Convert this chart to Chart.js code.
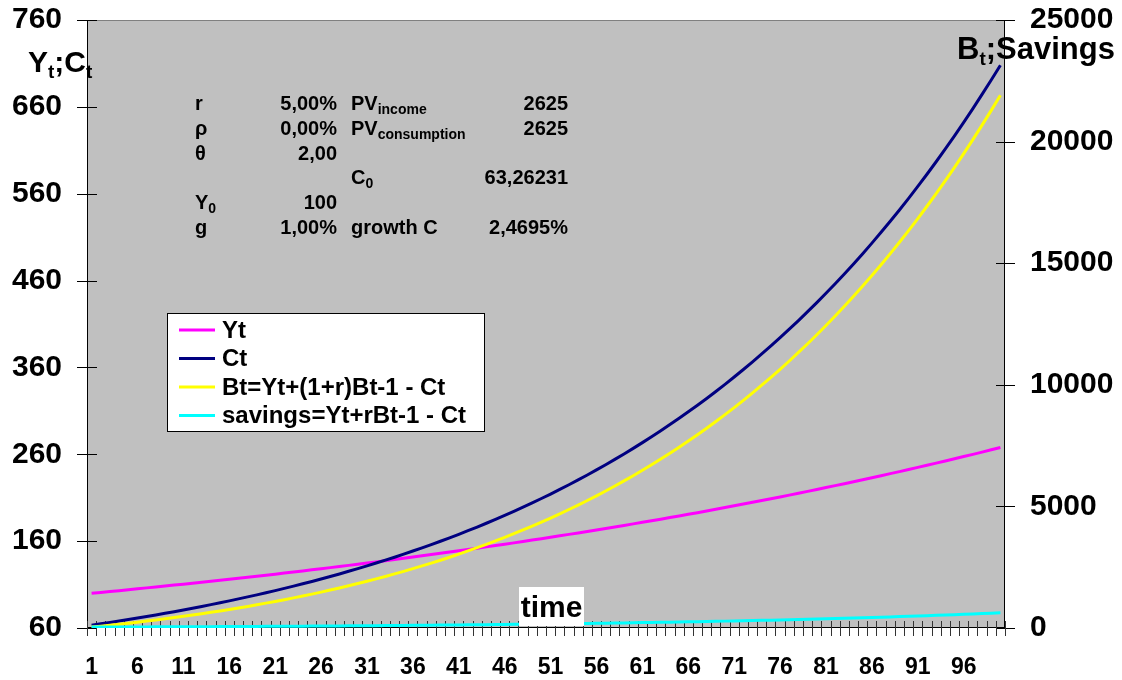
<!DOCTYPE html>
<html>
<head>
<meta charset="utf-8">
<title>Consumption, income and savings</title>
<script src="https://cdn.jsdelivr.net/npm/chart.js@4.4.0/dist/chart.umd.min.js"></script>
<style>
  html, body { margin: 0; padding: 0; background: #ffffff; }
  #chart { display: block; }
</style>
</head>
<body>
<canvas id="chart" width="1122" height="680"></canvas>
<script>
// time periods 1..100
const periods = [
  1, 2, 3, 4, 5, 6, 7, 8, 9, 10, 11, 12, 13, 14, 15, 16, 17, 18, 19, 20,
  21, 22, 23, 24, 25, 26, 27, 28, 29, 30, 31, 32, 33, 34, 35, 36, 37, 38, 39, 40,
  41, 42, 43, 44, 45, 46, 47, 48, 49, 50, 51, 52, 53, 54, 55, 56, 57, 58, 59, 60,
  61, 62, 63, 64, 65, 66, 67, 68, 69, 70, 71, 72, 73, 74, 75, 76, 77, 78, 79, 80,
  81, 82, 83, 84, 85, 86, 87, 88, 89, 90, 91, 92, 93, 94, 95, 96, 97, 98, 99, 100
];

// income Yt (left axis)
const incomeY = [
  100.0, 101.0, 102.0, 103.0, 104.1, 105.1, 106.2, 107.2, 108.3, 109.4,
  110.5, 111.6, 112.7, 113.8, 114.9, 116.1, 117.3, 118.4, 119.6, 120.8,
  122.0, 123.2, 124.5, 125.7, 127.0, 128.2, 129.5, 130.8, 132.1, 133.5,
  134.8, 136.1, 137.5, 138.9, 140.3, 141.7, 143.1, 144.5, 146.0, 147.4,
  148.9, 150.4, 151.9, 153.4, 154.9, 156.5, 158.0, 159.6, 161.2, 162.8,
  164.5, 166.1, 167.8, 169.4, 171.1, 172.9, 174.6, 176.3, 178.1, 179.9,
  181.7, 183.5, 185.3, 187.2, 189.0, 190.9, 192.8, 194.8, 196.7, 198.7,
  200.7, 202.7, 204.7, 206.8, 208.8, 210.9, 213.0, 215.2, 217.3, 219.5,
  221.7, 223.9, 226.1, 228.4, 230.7, 233.0, 235.3, 237.7, 240.0, 242.4,
  244.9, 247.3, 249.8, 252.3, 254.8, 257.4, 259.9, 262.5, 265.2, 267.8
];

// consumption Ct (left axis)
const consumptionC = [
  63.3, 64.8, 66.4, 68.1, 69.7, 71.5, 73.2, 75.0, 76.9, 78.8,
  80.7, 82.7, 84.8, 86.9, 89.0, 91.2, 93.5, 95.8, 98.1, 100.6,
  103.0, 105.6, 108.2, 110.9, 113.6, 116.4, 119.3, 122.2, 125.3, 128.3,
  131.5, 134.8, 138.1, 141.5, 145.0, 148.6, 152.2, 156.0, 159.9, 163.8,
  167.9, 172.0, 176.2, 180.6, 185.1, 189.6, 194.3, 199.1, 204.0, 209.1,
  214.2, 219.5, 224.9, 230.5, 236.2, 242.0, 248.0, 254.1, 260.4, 266.8,
  273.4, 280.2, 287.1, 294.2, 301.4, 308.9, 316.5, 324.3, 332.3, 340.5,
  349.0, 357.6, 366.4, 375.5, 384.7, 394.2, 404.0, 413.9, 424.2, 434.6,
  445.4, 456.4, 467.6, 479.2, 491.0, 503.1, 515.6, 528.3, 541.3, 554.7,
  568.4, 582.4, 596.8, 611.6, 626.7, 642.1, 658.0, 674.3, 690.9, 708.0
];

// wealth Bt (right axis)
const wealthB = [
  37, 75, 114, 155, 197, 240, 285, 332, 380, 429,
  480, 533, 588, 644, 702, 762, 824, 888, 954, 1022,
  1092, 1164, 1239, 1315, 1394, 1476, 1560, 1647, 1736, 1828,
  1922, 2020, 2120, 2224, 2330, 2440, 2552, 2669, 2788, 2911,
  3038, 3168, 3302, 3440, 3582, 3728, 3878, 4032, 4191, 4354,
  4522, 4695, 4873, 5055, 5243, 5436, 5634, 5838, 6048, 6263,
  6485, 6712, 6946, 7186, 7433, 7687, 7948, 8216, 8491, 8773,
  9064, 9362, 9668, 9983, 10306, 10638, 10979, 11330, 11689, 12059,
  12438, 12827, 13227, 13638, 14059, 14492, 14936, 15393, 15861, 16342,
  16835, 17342, 17862, 18396, 18944, 19506, 20083, 20676, 21284, 21908
];

// savings (right axis)
const savings = [
  36.7, 38.0, 39.3, 40.7, 42.1, 43.5, 44.9, 46.4, 48.0, 49.6,
  51.2, 52.9, 54.6, 56.3, 58.1, 60.0, 61.9, 63.9, 65.9, 67.9,
  70.1, 72.2, 74.5, 76.8, 79.1, 81.6, 84.0, 86.6, 89.2, 91.9,
  94.7, 97.5, 100.4, 103.4, 106.4, 109.6, 112.8, 116.1, 119.5, 123.0,
  126.6, 130.3, 134.0, 137.9, 141.9, 145.9, 150.1, 154.4, 158.8, 163.3,
  168.0, 172.7, 177.6, 182.6, 187.7, 193.0, 198.4, 203.9, 209.6, 215.4,
  221.4, 227.6, 233.8, 240.3, 246.9, 253.7, 260.7, 267.8, 275.2, 282.7,
  290.4, 298.3, 306.4, 314.7, 323.3, 332.0, 341.0, 350.2, 359.6, 369.3,
  379.2, 389.4, 399.9, 410.6, 421.5, 432.8, 444.3, 456.2, 468.3, 480.8,
  493.5, 506.6, 520.0, 533.8, 547.9, 562.4, 577.2, 592.4, 608.0, 624.0
];

// parameter block shown inside the plot: [label, sub, value, label, sub, value]
const paramRows = [
  ["r", "", "5,00%", "PV", "income", "2625"],
  ["\u03c1", "", "0,00%", "PV", "consumption", "2625"],
  ["\u03b8", "", "2,00", "", "", ""],
  ["", "", "", "C", "0", "63,26231"],
  ["Y", "0", "100", "", "", ""],
  ["g", "", "1,00%", "growth C", "", "2,4695%"]
];

const FONT = "'Liberation Sans', Arial, Helvetica, sans-serif";

// draw a piece of text followed by a subscript, returns end x
function textWithSub(ctx, main, sub, x, y, size, subSize, drop) {
  ctx.font = "bold " + size + "px " + FONT;
  ctx.fillText(main, x, y);
  x += ctx.measureText(main).width;
  if (sub) {
    ctx.font = "bold " + subSize + "px " + FONT;
    ctx.fillText(sub, x, y + drop);
    x += ctx.measureText(sub).width;
  }
  return x;
}

const plotBackground = {
  id: "plotBackground",
  beforeDatasetsDraw(chart) {
    const { ctx, chartArea: a, scales } = chart;
    ctx.save();
    ctx.fillStyle = "#c0c0c0";
    ctx.fillRect(a.left, a.top, a.right - a.left, a.bottom - a.top);
    ctx.strokeStyle = "#808080";
    ctx.lineWidth = 1;
    ctx.beginPath();
    ctx.moveTo(a.left, a.top + 0.5);
    ctx.lineTo(a.right, a.top + 0.5);
    ctx.stroke();

    ctx.strokeStyle = "#000";
    ctx.beginPath();
    // axis lines
    ctx.moveTo(a.left + 0.5, a.top);
    ctx.lineTo(a.left + 0.5, a.bottom);
    ctx.moveTo(a.right - 0.5, a.top);
    ctx.lineTo(a.right - 0.5, a.bottom);
    ctx.moveTo(a.left, a.bottom - 0.5);
    ctx.lineTo(a.right, a.bottom - 0.5);
    // crossing tick marks, left axis
    scales.y.ticks.forEach(t => {
      const py = Math.round(scales.y.getPixelForValue(t.value)) + 0.5;
      ctx.moveTo(a.left - 10, py);
      ctx.lineTo(a.left + 10, py);
    });
    // right axis
    scales.y2.ticks.forEach(t => {
      const py = Math.round(scales.y2.getPixelForValue(t.value)) + 0.5;
      ctx.moveTo(a.right - 9, py);
      ctx.lineTo(a.right + 10, py);
    });
    ctx.stroke();
    // category boundaries on the time axis
    const x = scales.x;
    const step = x.getPixelForValue(1) - x.getPixelForValue(0);
    const first = x.getPixelForValue(0) - step / 2;
    ctx.strokeStyle = "#333";
    ctx.beginPath();
    for (let i = 0; i <= periods.length; i++) {
      const px = Math.round(first + i * step) + 0.5;
      ctx.moveTo(px, a.bottom - 7);
      ctx.lineTo(px, a.bottom + 8);
    }
    ctx.stroke();
    ctx.restore();
  }
};

const annotations = {
  id: "annotations",
  afterDatasetsDraw(chart) {
    const { ctx } = chart;
    ctx.save();
    ctx.fillStyle = "#000";
    ctx.textBaseline = "alphabetic";

    // parameter table
    const rowY = [110, 134.8, 159.6, 184.4, 209.2, 234];
    paramRows.forEach((row, i) => {
      const y = rowY[i];
      ctx.textAlign = "left";
      textWithSub(ctx, row[0], row[1], 195, y, 20, 14, 4);
      textWithSub(ctx, row[3], row[4], 351, y, 20, 14, 4);
      ctx.font = "bold 20px " + FONT;
      ctx.textAlign = "right";
      ctx.fillText(row[2], 337, y);
      ctx.fillText(row[5], 568, y);
    });
    ctx.textAlign = "left";

    // legend box
    const lx = 167, ly = 313, lw = 317, lh = 118;
    ctx.fillStyle = "#fff";
    ctx.fillRect(lx, ly, lw, lh);
    ctx.strokeStyle = "#000";
    ctx.lineWidth = 1;
    ctx.strokeRect(lx + 0.5, ly + 0.5, lw, lh);
    ctx.font = "bold 24px " + FONT;
    ctx.textBaseline = "middle";
    chart.data.datasets.forEach((ds, i) => {
      const cy = 330 + i * 28.5;
      ctx.strokeStyle = ds.borderColor;
      ctx.lineWidth = 3;
      ctx.beginPath();
      ctx.moveTo(179, cy);
      ctx.lineTo(215, cy);
      ctx.stroke();
      ctx.fillStyle = "#000";
      ctx.fillText(ds.label, 222, cy + 1);
    });

    // "time" label on a white box
    ctx.fillStyle = "#fff";
    ctx.fillRect(519, 587, 65, 39);
    ctx.fillStyle = "#000";
    ctx.font = "bold 30px " + FONT;
    ctx.textAlign = "center";
    ctx.textBaseline = "alphabetic";
    ctx.fillText("time", 551.5, 617);
    ctx.restore();
  },
  afterDraw(chart) {
    const { ctx } = chart;
    ctx.save();
    ctx.fillStyle = "#000";
    ctx.textBaseline = "alphabetic";
    ctx.textAlign = "left";
    // left axis title
    let x = textWithSub(ctx, "Y", "t", 28, 72, 30, 19, 6);
    x = textWithSub(ctx, ";C", "t", x, 72, 30, 19, 6);
    // right axis title
    x = textWithSub(ctx, "B", "t", 957, 59, 31, 19, 6);
    textWithSub(ctx, ";Savings", "", x, 59, 31, 19, 6);
    ctx.restore();
  }
};

const lineStyle = { borderWidth: 3, pointRadius: 0, fill: false, tension: 0 };

new Chart(document.getElementById("chart").getContext("2d"), {
  type: "line",
  data: {
    labels: periods,
    datasets: [
      { label: "Yt", data: incomeY, borderColor: "#ff00ff", yAxisID: "y", order: 4, ...lineStyle },
      { label: "Ct", data: consumptionC, borderColor: "#000080", yAxisID: "y", order: 3, ...lineStyle },
      { label: "Bt=Yt+(1+r)Bt-1 - Ct", data: wealthB, borderColor: "#ffff00", yAxisID: "y2", order: 2, ...lineStyle },
      { label: "savings=Yt+rBt-1 - Ct", data: savings, borderColor: "#00ffff", yAxisID: "y2", order: 1, ...lineStyle }
    ]
  },
  options: {
    responsive: false,
    animation: false,
    devicePixelRatio: 1,
    layout: { padding: { top: 20, left: 0, right: 0, bottom: 0 } },
    plugins: {
      legend: { display: false },
      tooltip: { enabled: false },
      title: { display: false }
    },
    scales: {
      x: {
        type: "category",
        offset: true,
        grid: { display: false, drawTicks: false },
        border: { display: false },
        ticks: {
          autoSkip: false,
          maxRotation: 0,
          padding: 26,
          color: "#000",
          font: { family: FONT, size: 23, weight: "bold" },
          callback: (v, i) => (i % 5 === 0 ? String(periods[i]) : "")
        },
        afterFit: s => { s.height = 52; s.paddingLeft = 0; s.paddingRight = 0; }
      },
      y: {
        position: "left",
        min: 60,
        max: 760,
        grid: { display: false, drawTicks: false },
        border: { display: false },
        ticks: {
          stepSize: 100,
          padding: 25,
          color: "#000",
          font: { family: FONT, size: 30, weight: "bold" },
          callback: v => String(v)
        },
        afterFit: s => { s.width = 87; s.paddingTop = 0; s.paddingBottom = 0; }
      },
      y2: {
        position: "right",
        min: 0,
        max: 25000,
        grid: { display: false, drawTicks: false },
        border: { display: false },
        ticks: {
          stepSize: 5000,
          padding: 25,
          color: "#000",
          font: { family: FONT, size: 30, weight: "bold" },
          callback: v => String(v)
        },
        afterFit: s => { s.width = 117; s.paddingTop = 0; s.paddingBottom = 0; }
      }
    }
  },
  plugins: [plotBackground, annotations]
});
</script>
</body>
</html>
